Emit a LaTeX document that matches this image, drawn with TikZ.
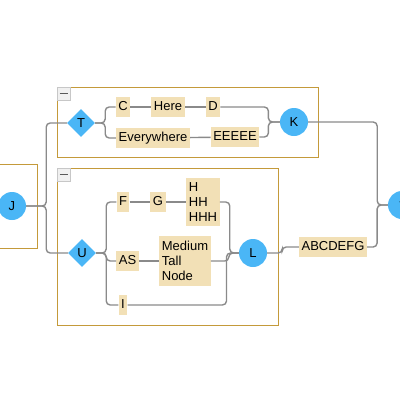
\documentclass[tikz,border=0pt]{standalone}
\usepackage{fontspec}
\setmainfont{Liberation Sans}
\usetikzlibrary{shapes.geometric}

\definecolor{boxfill}{HTML}{F2E0B6}
\definecolor{sky}{HTML}{4AB6F6}
\definecolor{grpgold}{HTML}{C49A3A}
\definecolor{wire}{HTML}{8A8A8A}

\tikzset{
  lblbox/.style={fill=boxfill, inner xsep=2.5pt, inner ysep=5pt, align=left},
  lbl/.style={lblbox, inner ysep=3.5pt, text height=10pt, text depth=3pt},
  circ/.style={circle, fill=sky, minimum size=28pt, inner sep=0pt},
  diam/.style={diamond, fill=sky, minimum size=28pt, inner sep=0pt},
  grp/.style={draw=grpgold, line width=1pt},
  btn/.style={draw=black!22, fill=black!6, minimum size=13pt, inner sep=0pt},
  edge/.style={draw=wire, line width=1.4pt, rounded corners=4pt},
}

\begin{document}
\begin{tikzpicture}[x=1pt, y=-1pt, font=\fontsize{13}{15}\selectfont]
\useasboundingbox (0,0) rectangle (400,400);

% groups
\draw[grp] (-10,164) rectangle (37,248);
\draw[grp] (57,87) rectangle (318,157);
\draw[grp] (57,168) rectangle (278,325);
\node[btn] (btnA) at (63.5,93.5) {};
\draw[line width=1.6pt, black!65] (btnA.center) +(-4,0) -- +(4,0);
\node[btn] (btnB) at (63.5,174.5) {};
\draw[line width=1.6pt, black!65] (btnB.center) +(-4,0) -- +(4,0);

% round and diamond nodes
\node[circ] (J) at (12,206) {J};
\node[diam] (T) at (81,123) {T};
\node[diam] (U) at (82,253) {U};
\node[circ] (K) at (294,122) {K};
\node[circ] (L) at (253,253) {L};
\node[circ] (star) at (402,205) {*};

% labels, top group
\node[lbl] (C) at (123,107) {C};
\node[lbl] (here) at (168,107) {Here};
\node[lbl] (D) at (213,107) {D};
\node[lbl] (every) at (153,138) {Everywhere};
\node[lbl] (five) at (235,137) {EEEEE};

% labels, bottom group
\node[lbl] (F) at (123,202) {F};
\node[lbl] (G) at (158,202) {G};
\node[lblbox] (H) at (203,202) {H\\HH\\HHH};
\node[lbl] (AS) at (127.5,261) {AS};
\node[lblbox] (med) at (185,261) {Medium\\Tall\\Node};
\node[lbl] (I) at (123,305) {I};
\node[lbl] (abc) at (333,247) {ABCDEFG};

% connectors
\draw[edge] (J.east) -- ++(20,0) |- (T.west);
\draw[edge] (J.east) -- ++(20,0) |- (U.west);
\draw[edge] (T.east) -- ++(10,0) |- (C.west);
\draw[edge] (T.east) -- ++(10,0) |- (every.west);
\draw[edge] (C) -- (here);
\draw[edge] (here) -- (D);
\draw[edge] (every) -- (five);
\draw[edge] (D.east) -- ++(48,0) |- (K.west);
\draw[edge] (five.east) -- ++(9,0) |- (K.west);
\draw[edge] (K.east) -- ++(69,0) |- (star.west);
\draw[edge] (U.east) -- ++(10,0) |- (F.west);
\draw[edge] (U.east) -- ++(10,0) |- (AS.west);
\draw[edge] (U.east) -- ++(10,0) |- (I.west);
\draw[edge] (F) -- (G);
\draw[edge] (G) -- (H);
\draw[edge] (AS) -- (med);
\draw[edge] (H.east) -- ++(10,0) |- (L.west);
\draw[edge] (med.east) -- ++(18,0) |- (L.west);
\draw[edge] (I.east) -- ++(99,0) |- (L.west);
\draw[edge] (L.east) -- ++(15,0) |- (abc.west);
\draw[edge] (abc.east) -- ++(10,0) |- (star.west);
\end{tikzpicture}
\end{document}
